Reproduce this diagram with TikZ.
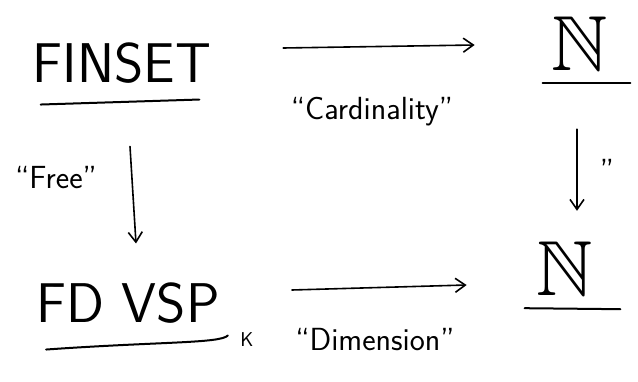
\documentclass[tikz,border=0pt]{standalone}
\usepackage{amssymb}
\usetikzlibrary{arrows.meta,calc}
\begin{document}
\begin{tikzpicture}[x=1pt,y=-1pt,
  obj/.style={inner sep=0pt, font=\fontsize{56}{56}\selectfont\sffamily},
  nat/.style={inner sep=0pt, text height=52pt, text depth=0pt, font=\fontsize{78}{78}\selectfont},
  lbl/.style={inner sep=0pt, font=\fontsize{32}{32}\selectfont\sffamily},
  sub/.style={inner sep=0pt, font=\fontsize{20}{20}\selectfont\sffamily},
  ul/.style={line width=2pt, line cap=round},
  arr/.style={line width=1.6pt, line cap=round, -{Straight Barb[length=10pt,width=14pt,line width=1.6pt]}}]
\useasboundingbox (0,0) rectangle (638,382);
\node[obj] (finset) at (122,63) {FINSET};
\node[nat] (n1) at (580,45) {$\mathbb{N}$};
\node[obj] (fd) at (128,303) {FD VSP};
\node[sub] (k) at (247,340) {K};
\node[nat] (n2) at (565,270) {$\mathbb{N}$};
\node[lbl] (card) at (372,112) {``Cardinality''};
\node[lbl] (free) at (56,178) {``Free''};
\node[lbl] (dim) at (375,340) {``Dimension''};
\node[lbl] (eq) at (607,170) {''};
% underlines
\draw[ul] ($(finset.south west)+(8,21)$) -- ($(finset.south east)+(-12,16)$);
\draw[ul] ($(n1.south west)+(-9,12)$) -- ($(n1.south east)+(22,12)$);
\draw[ul] ($(fd.south west)+(10,26)$) .. controls ($(fd.south east)+(-60,18)$) and ($(fd.south east)+(0,20)$) .. ($(fd.south east)+(8,12)$);
\draw[ul] ($(n2.south west)+(-12,12)$) -- ($(n2.south east)+(27,13)$);
% arrows
\draw[arr] ($(finset.east)+(72,-15)$) -- ($(n1.west)+(-77,0)$);
\draw[arr] ($(fd.east)+(72,-13)$) -- ($(n2.west)+(-70,15)$);
\draw[arr] ($(finset.south)+(8,63)$) -- ($(fd.north)+(8,-39)$);
\draw[arr] ($(n1.south)+(-3,58)$) -- ($(n2.north)+(12,-33)$);
\end{tikzpicture}
\end{document}
